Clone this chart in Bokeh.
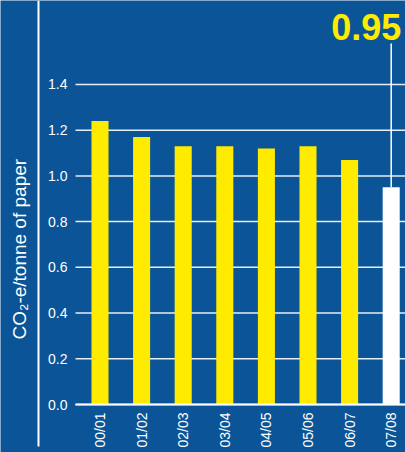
import math
from bokeh.plotting import figure
from bokeh.models import FixedTicker, Range1d, NumeralTickFormatter, ColumnDataSource
from bokeh.core.properties import value
from bokeh.embed import file_html
from bokeh.resources import INLINE

# ---- data ----
years = ["00/01", "01/02", "02/03", "03/04", "04/05", "05/06", "06/07", "07/08"]
emissions = [1.24, 1.17, 1.13, 1.13, 1.12, 1.13, 1.07, 0.95]
y_ticks = [0.0, 0.2, 0.4, 0.6, 0.8, 1.0, 1.2, 1.4]
y_title = "CO\u2082-e/tonne of paper"

BG = "#0A5497"
YELLOW = "#FFEB00"
FONT = "Liberation Sans"

W, H = 405, 452
PX_X = 41.6          # pixels per category step
PX_Y = 228.6         # pixels per unit of y
X0_PX = 99.5         # pixel position of first bar centre
Y0_PX = 404          # pixel position of y = 0

def xd(px):  # pixel column -> data x
    return (px - X0_PX) / PX_X

def yd(py):  # pixel row (from top) -> data y
    return (Y0_PX - py) / PX_Y

idx = list(range(len(years)))
colors = [YELLOW] * (len(years) - 1) + ["white"]
src = ColumnDataSource(dict(x=idx, top=emissions, color=colors))

x_lo, x_hi = xd(0), xd(W)
y_lo, y_hi = yd(H), yd(0)
plot_left = xd(75)

p = figure(width=W, height=H, output_backend="svg", toolbar_location=None,
           x_range=Range1d(x_lo, x_hi), y_range=Range1d(y_lo, y_hi),
           min_border=0)
p.background_fill_color = BG
p.border_fill_color = BG
p.outline_line_color = None
p.grid.visible = False

# horizontal grid lines at the tick values
p.segment(x0=[plot_left] * len(y_ticks), x1=[x_hi] * len(y_ticks),
          y0=y_ticks, y1=y_ticks, line_color="white", line_alpha=0.9, line_width=1.5)

p.vbar(x="x", top="top", width=0.41, bottom=0, color="color", line_color=None, source=src)

# highlight of the latest value
last_x = idx[-1]
last_v = emissions[-1]
p.segment(x0=[last_x], y0=[last_v], x1=[last_x], y1=[yd(43)], line_color="white", line_width=1.5)
p.text(x=[last_x], y=[yd(39)], text=[f"{last_v:.2f}"], x_offset=10,
       text_align="right", text_baseline="bottom", text_color=YELLOW,
       text_font=value(FONT), text_font_style="bold", text_font_size="36px")

# divider line and axis title
p.segment(x0=[xd(38)], x1=[xd(38)], y0=[y_hi], y1=[yd(446)], line_color="white", line_width=2)
p.text(x=[xd(19)], y=[yd(339)], text=[y_title], angle=math.pi / 2,
       text_align="left", text_baseline="middle", text_color="white",
       text_font=value(FONT), text_font_size="19px")

# x axis
p.xaxis.fixed_location = 0
p.xaxis.bounds = (plot_left, x_hi)
p.xaxis.ticker = FixedTicker(ticks=idx)
p.xaxis.major_label_overrides = {i: y for i, y in zip(idx, years)}
p.xaxis.major_label_orientation = math.pi / 2
p.xaxis.major_label_standoff = 8
p.xaxis.major_tick_out = 0
p.xaxis.major_tick_in = 0
p.xaxis.minor_tick_line_color = None
p.xaxis.axis_line_color = "white"
p.xaxis.axis_line_width = 2
p.xaxis.major_label_text_color = "white"
p.xaxis.major_label_text_font = FONT
p.xaxis.major_label_text_font_size = "14px"

# y axis (tick labels)
p.yaxis.fixed_location = plot_left
p.yaxis.ticker = FixedTicker(ticks=y_ticks)
p.yaxis.formatter = NumeralTickFormatter(format="0.0")
p.yaxis.major_label_standoff = 8
p.yaxis.major_tick_out = 0
p.yaxis.major_tick_in = 0
p.yaxis.minor_tick_line_color = None
p.yaxis.axis_line_color = None
p.yaxis.major_label_text_color = "white"
p.yaxis.major_label_text_font = FONT
p.yaxis.major_label_text_font_size = "14px"

open("out.html", "w").write(file_html(p, INLINE))
